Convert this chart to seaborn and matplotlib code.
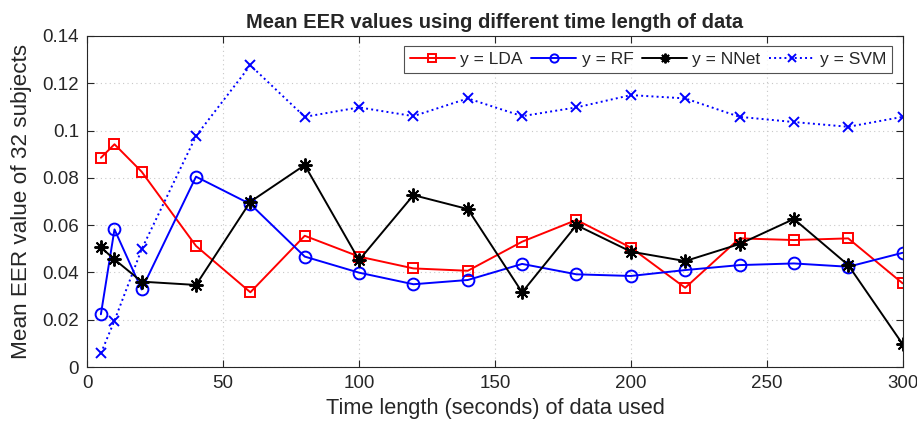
import matplotlib
matplotlib.use("Agg")
import matplotlib.pyplot as plt
import seaborn as sns
import pandas as pd

time_len = [5, 10, 20, 40, 60, 80, 100, 120, 140, 160, 180, 200, 220, 240, 260, 280, 300]
lda = [0.0885, 0.0942, 0.0826, 0.0512, 0.0316, 0.0555, 0.0467, 0.0417, 0.0407, 0.0530, 0.0622, 0.0505, 0.0335, 0.0544, 0.0537, 0.0544, 0.0354]
rf = [0.0223, 0.0582, 0.0328, 0.0805, 0.0689, 0.0467, 0.0399, 0.0350, 0.0368, 0.0436, 0.0392, 0.0385, 0.0410, 0.0431, 0.0438, 0.0424, 0.0483]
nnet = [0.0506, 0.0455, 0.0361, 0.0347, 0.0699, 0.0854, 0.0452, 0.0727, 0.0668, 0.0316, 0.0600, 0.0488, 0.0448, 0.0520, 0.0626, 0.0431, 0.0097]
svm = [0.0058, 0.0196, 0.0498, 0.0977, 0.1276, 0.1058, 0.1098, 0.1061, 0.1136, 0.1061, 0.1098, 0.1150, 0.1136, 0.1058, 0.1036, 0.1016, 0.1058]
labels = ["y = LDA", "y = RF", "y = NNet", "y = SVM"]
x_ticks = [0, 50, 100, 150, 200, 250, 300]
y_ticks = [0, 0.02, 0.04, 0.06, 0.08, 0.1, 0.12, 0.14]
y_ticklabels = ["0", "0.02", "0.04", "0.06", "0.08", "0.1", "0.12", "0.14"]

sns.set_style("white")
plt.rcParams["font.family"] = ["Liberation Sans", "DejaVu Sans"]

fig = plt.figure(figsize=(9.17, 4.30), dpi=100)
ax = fig.add_axes([0.0952, 0.1465, 0.8891, 0.7698])

styles = [
    dict(color="#ff0000", marker="s", linestyle="-", markersize=7.5),
    dict(color="#0000ff", marker="o", linestyle="-", markersize=8.5),
    dict(color="#000000", marker=(8, 2, 0), linestyle="-", markersize=10),
    dict(color="#0000ff", marker="x", linestyle=":", markersize=7.5),
]
series = [lda, rf, nnet, svm]
for vals, lab, st in zip(series, labels, styles):
    df = pd.DataFrame({"t": time_len, "v": vals})
    sns.lineplot(data=df, x="t", y="v", ax=ax, label=lab, linewidth=1.4,
                 mfc="none", mec=st["color"], mew=1.4, **st)

ax.set_xlim(0, 300)
ax.set_ylim(0, 0.14)
ax.set_xticks(x_ticks)
ax.set_yticks(y_ticks)
ax.set_yticklabels(y_ticklabels)
ax.tick_params(direction="in", length=5, width=0.8, labelsize=13.5, colors="#262626",
               top=True, right=True, bottom=True, left=True, pad=6)
for s in ax.spines.values():
    s.set_visible(True)
    s.set_color("#262626")
    s.set_linewidth(0.8)
ax.grid(True, linestyle=(0, (1, 3)), color="#c8c8c8", linewidth=0.8)
ax.set_xlabel("Time length (seconds) of data used", fontsize=15.7, color="#262626", labelpad=4)
ax.set_ylabel("Mean EER value of 32 subjects", fontsize=16.2, color="#262626", labelpad=7)
ax.set_title("Mean EER values using different time length of data", fontsize=14.5,
             fontweight="bold", pad=6)

leg = ax.legend(loc="upper right", ncol=4, fontsize=12.5, frameon=True, fancybox=False,
                edgecolor="#262626", handlelength=2.6, columnspacing=0.5, handletextpad=0.3,
                borderpad=0.35, borderaxespad=0, markerscale=0.7,
                bbox_to_anchor=(0.987, 0.97))
leg.get_frame().set_linewidth(0.8)

fig.savefig("out.png", dpi=100)
